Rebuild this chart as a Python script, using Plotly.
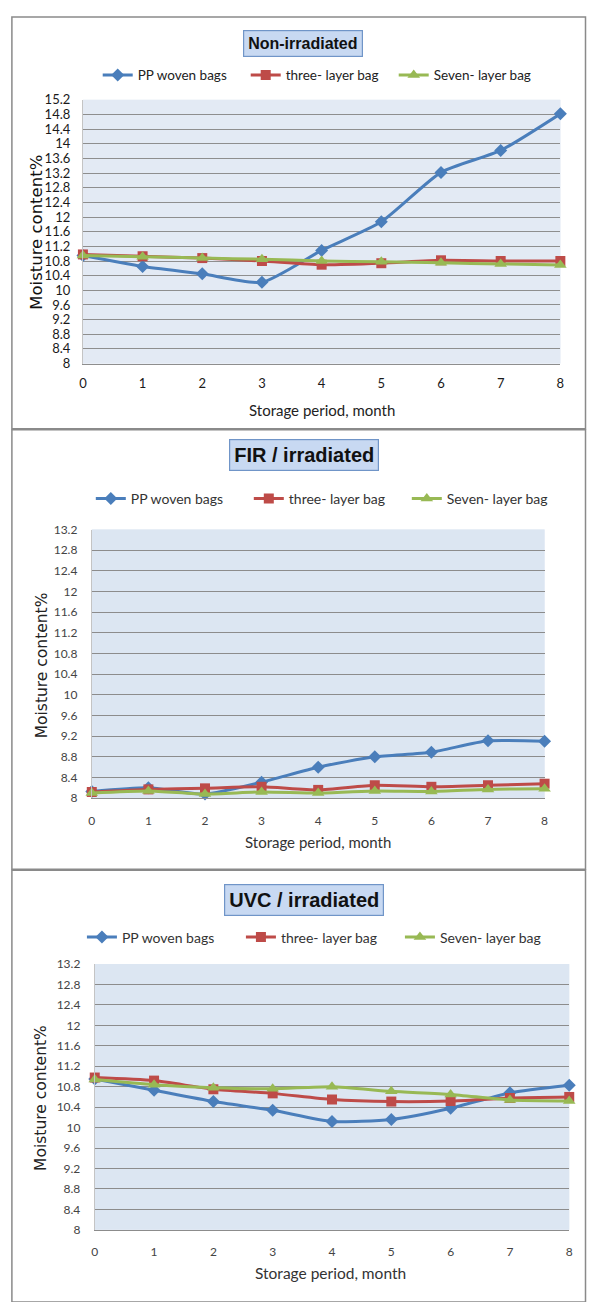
import plotly.graph_objects as go

W, H = 590, 1302

months = [0, 1, 2, 3, 4, 5, 6, 7, 8]
series_names = ["PP woven bags", "three- layer bag", "Seven- layer bag"]

# Non-irradiated
non_pp = [10.95, 10.65, 10.45, 10.22, 11.09, 11.87, 13.22, 13.82, 14.82]
non_three = [10.98, 10.93, 10.88, 10.80, 10.70, 10.74, 10.82, 10.80, 10.80]
non_seven = [10.95, 10.92, 10.88, 10.85, 10.80, 10.78, 10.75, 10.72, 10.69]

# FIR / irradiated
fir_pp = [8.13, 8.20, 8.08, 8.31, 8.60, 8.80, 8.89, 9.11, 9.10]
fir_three = [8.12, 8.17, 8.19, 8.22, 8.16, 8.25, 8.22, 8.25, 8.28]
fir_seven = [8.10, 8.14, 8.08, 8.12, 8.10, 8.14, 8.13, 8.17, 8.18]

# UVC / irradiated
uvc_pp = [10.95, 10.73, 10.51, 10.34, 10.12, 10.16, 10.38, 10.68, 10.83]
uvc_three = [10.98, 10.92, 10.75, 10.67, 10.55, 10.51, 10.52, 10.58, 10.60]
uvc_seven = [10.94, 10.84, 10.78, 10.76, 10.80, 10.71, 10.65, 10.54, 10.52]

top_yticks = [8, 8.4, 8.8, 9.2, 9.6, 10, 10.4, 10.8, 11.2, 11.6, 12, 12.4, 12.8, 13.2, 13.6, 14, 14.4, 14.8, 15.2]
low_yticks = [8, 8.4, 8.8, 9.2, 9.6, 10, 10.4, 10.8, 11.2, 11.6, 12, 12.4, 12.8, 13.2]

colors = ["#4a7ebb", "#be4b48", "#98b954"]
symbols = ["diamond", "square", "triangle-up"]

def px(x):
    return x / W

def py(y):
    return 1 - y / H

SANS = "Liberation Sans, Arial, sans-serif"
LATO = "Lato, Carlito, Liberation Sans, sans-serif"

panels = [
    dict(data=[non_pp, non_three, non_seven], xd=(80, 564), yd=(93, 360), rng=[8, 15.2], ticks=top_yticks,
         bg="#e3eaf4", grid="#8e8e8e", tickfont=dict(family=LATO, size=13, color="#1a1a1a"),
         xstand=8, ystand=9, legend="legend", title="Non-irradiated",
         tbox=(303, 36), tfont=dict(family=SANS, size=16, color="#111"),
         leg=(95, 68), legfont=dict(family=LATO, size=13.5, color="#222"), ew=103,
         ytitle=(33, 227), ytfont=dict(family="DejaVu Sans", size=16.5, color="#111"),
         xtitle=(322, 407), xtfont=dict(family=LATO, size=15, color="#222")),
    dict(data=[fir_pp, fir_three, fir_seven], xd=(89, 548), yd=(528, 800), rng=[8, 13.2], ticks=low_yticks,
         bg="#dce6f2", grid="#8c8c8c", tickfont=dict(family=LATO, size=12, color="#444"),
         xstand=11, ystand=11, legend="legend2", title="FIR / irradiated",
         tbox=(304, 453), tfont=dict(family=SANS, size=20, color="#111"),
         leg=(88, 497), legfont=dict(family=LATO, size=14, color="#333"), ew=113,
         ytitle=(38, 665), ytfont=dict(family="DejaVu Sans", size=15.5, color="#222"),
         xtitle=(318, 844), xtfont=dict(family=LATO, size=15, color="#333")),
    dict(data=[uvc_pp, uvc_three, uvc_seven], xd=(92, 573), yd=(968, 1237), rng=[8, 13.2], ticks=low_yticks,
         bg="#dce6f2", grid="#8c8c8c", tickfont=dict(family=LATO, size=12, color="#444"),
         xstand=11, ystand=11, legend="legend3", title="UVC / irradiated",
         tbox=(304, 903), tfont=dict(family=SANS, size=20, color="#111"),
         leg=(79, 941), legfont=dict(family=LATO, size=14, color="#333"), ew=114,
         ytitle=(38, 1103), ytfont=dict(family="DejaVu Sans", size=15.5, color="#222"),
         xtitle=(331, 1281), xtfont=dict(family=LATO, size=15.5, color="#333")),
]

fig = go.Figure()
layout = dict(width=W, height=H, margin=dict(l=0, r=0, t=0, b=0), paper_bgcolor="white",
              showlegend=True, annotations=[], shapes=[])

for i, p in enumerate(panels):
    sfx = "" if i == 0 else str(i + 1)
    for j in range(3):
        fig.add_trace(go.Scatter(
            x=months, y=p["data"][j], name=series_names[j], mode="lines+markers",
            line=dict(color=colors[j], width=3, shape="spline", smoothing=0.6),
            marker=dict(symbol=symbols[j], size=10 if j != 2 else 11, color=colors[j]),
            xaxis="x" + sfx, yaxis="y" + sfx, legend=p["legend"], cliponaxis=False,
        ))
    layout["xaxis" + sfx] = dict(domain=[px(p["xd"][0]), px(p["xd"][1])], range=[0, 8], tickmode="array",
                                 tickvals=months, ticktext=[str(m) for m in months], showgrid=False,
                                 zeroline=False, showline=True, linecolor=p["grid"], linewidth=1,
                                 tickfont=p["tickfont"], ticks="", ticklabelstandoff=p["xstand"],
                                 anchor="y" + sfx, fixedrange=True)
    layout["yaxis" + sfx] = dict(domain=[py(p["yd"][1]), py(p["yd"][0])], range=p["rng"], tickmode="array",
                                 tickvals=p["ticks"], ticktext=[("%g" % t) for t in p["ticks"]],
                                 showgrid=True, gridcolor=p["grid"], gridwidth=1, zeroline=False,
                                 showline=True, linecolor="#c4c4c4", linewidth=1,
                                 tickfont=p["tickfont"], ticks="", ticklabelstandoff=p["ystand"],
                                 anchor="x" + sfx, fixedrange=True)
    layout["shapes"].append(dict(type="rect", xref="x" + sfx + " domain", yref="y" + sfx + " domain",
                                 x0=0, x1=1, y0=0, y1=1, fillcolor=p["bg"], line=dict(width=0),
                                 layer="below"))
    layout[p["legend"]] = dict(orientation="h", x=px(p["leg"][0]), y=py(p["leg"][1]), xanchor="left",
                               yanchor="middle", font=p["legfont"], bgcolor="rgba(0,0,0,0)",
                               entrywidth=p["ew"], entrywidthmode="pixels", itemclick=False,
                               itemdoubleclick=False)
    layout["annotations"].append(dict(text="<b>%s</b>" % p["title"], xref="paper", yref="paper",
                                      x=px(p["tbox"][0]), y=py(p["tbox"][1]), showarrow=False,
                                      font=p["tfont"], bgcolor="#c8d9f2", bordercolor="#7095c8",
                                      borderwidth=1.2, borderpad=4, xanchor="center", yanchor="middle"))
    layout["annotations"].append(dict(text="Moisture content%", xref="paper", yref="paper",
                                      x=px(p["ytitle"][0]), y=py(p["ytitle"][1]), showarrow=False,
                                      textangle=-90, font=p["ytfont"], xanchor="center", yanchor="middle"))
    layout["annotations"].append(dict(text="Storage period, month", xref="paper", yref="paper",
                                      x=px(p["xtitle"][0]), y=py(p["xtitle"][1]), showarrow=False,
                                      font=p["xtfont"], xanchor="center", yanchor="middle"))

for (y0, y1) in [(9, 426), (427, 872), (873, 1310)]:
    layout["shapes"].append(dict(type="rect", xref="paper", yref="paper", x0=px(8), x1=px(589.5),
                                 y0=py(y1), y1=py(y0), line=dict(color="#8a8a8a", width=1.5),
                                 fillcolor="rgba(0,0,0,0)", layer="above"))

fig.update_layout(**layout)
fig.write_html("out.html", config={"displayModeBar": False})
